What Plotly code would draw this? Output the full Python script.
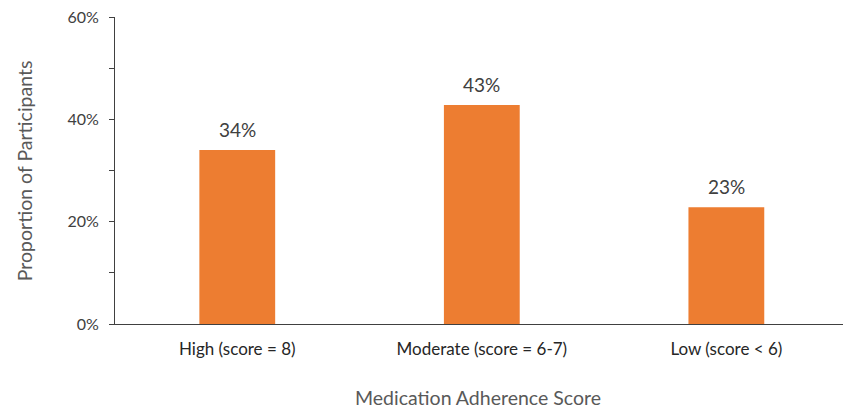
import plotly.graph_objects as go

categories = ["High (score = 8)", "Moderate (score = 6-7)", "Low (score < 6)"]
values = [34.0, 42.8, 22.8]
labels = ["34%", "43%", "23%"]

FONT = "Lato"

fig = go.Figure()
fig.add_trace(go.Bar(
    x=categories, y=values, width=0.31,
    marker=dict(color="#ED7D31", line=dict(width=0)),
))

annotations = [
    dict(x=c, y=v, xref="x", yref="y", text=t, showarrow=False,
         xanchor="center", yanchor="bottom", yshift=7,
         font=dict(family=FONT, size=19, color="#404040"))
    for c, v, t in zip(categories, values, labels)
]
annotations += [
    dict(text="Proportion of Participants", xref="paper", yref="paper",
         x=-0.124, y=0.5, textangle=-90, showarrow=False,
         xanchor="center", yanchor="middle",
         font=dict(family=FONT, size=19.5, color="#595959")),
    dict(text="Medication Adherence Score", xref="paper", yref="paper",
         x=0.499, y=-0.238, showarrow=False, xanchor="center", yanchor="middle",
         font=dict(family=FONT, size=19.5, color="#595959")),
]

fig.update_layout(
    width=843, height=410,
    margin=dict(l=115, r=0, t=17, b=86),
    paper_bgcolor="white", plot_bgcolor="white",
    showlegend=False,
    font=dict(family=FONT, color="#404040"),
    xaxis=dict(
        range=[-0.5, 2.477], showline=True, linecolor="#404040", linewidth=1,
        ticks="", showgrid=False, tickfont=dict(family=FONT, size=17, color="#262626"),
        ticklabelstandoff=10,
    ),
    yaxis=dict(
        range=[0, 60], tickvals=[0, 20, 40, 60],
        ticktext=["0%", "20%", "40%", "60%"],
        showline=True, linecolor="#404040", linewidth=1,
        ticks="outside", ticklen=5, tickcolor="#404040",
        minor=dict(ticks="outside", ticklen=5, tickcolor="#404040", tickvals=[10, 30, 50]),
        showgrid=False, zeroline=False,
        tickfont=dict(family=FONT, size=16, color="#404040"),
        ticklabelstandoff=7,
    ),
    annotations=annotations,
)

fig.write_html("out.html")
